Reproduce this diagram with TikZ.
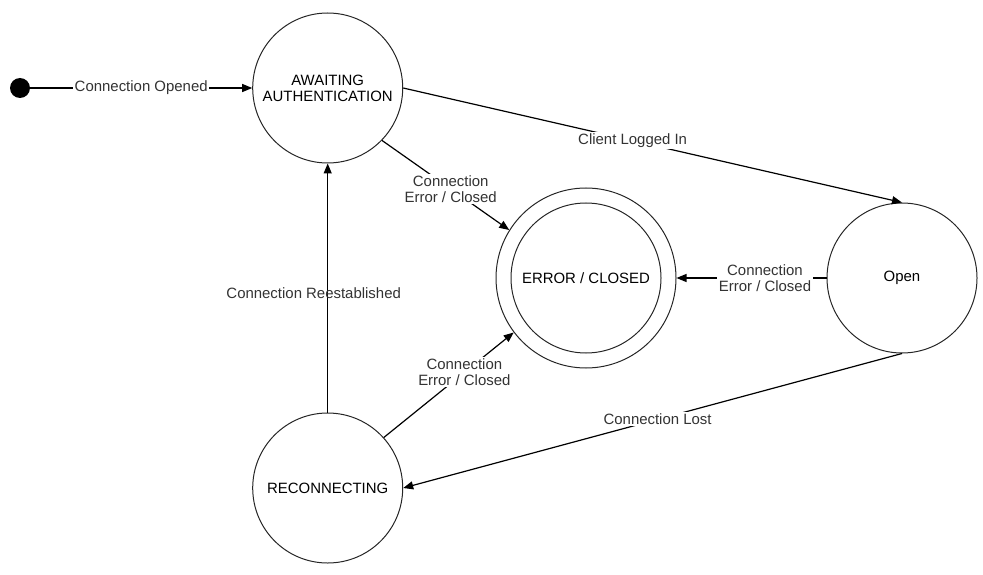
\documentclass[tikz,border=0pt]{standalone}
\usepackage{fontspec}
\setmainfont{Liberation Sans}
\usetikzlibrary{arrows.meta, positioning}

\begin{document}
\begin{tikzpicture}[x=1bp, y=-1bp, >={Triangle[length=10bp, width=8bp]},
  font=\fontsize{15}{16}\selectfont]

% Styles
\tikzstyle{state} = [circle, minimum size=150bp, inner sep=0pt, draw=black!85, line width=1bp, align=center]
\tikzstyle{initial} = [circle, minimum size=20bp, inner sep=0pt, fill=black]
\tikzstyle{arrow} = [line width=1.2bp, ->]
\tikzstyle{lbl} = [fill=white, inner sep=1.5bp, text=black!80, align=center]

\useasboundingbox (0,0) rectangle (983,575);

% --- Nodes ---

% 1. Start point
\node (start) [initial] at (20,88) {};

% 2. Awaiting authentication
\node (awaiting) [state, right=222bp of start] {AWAITING\\AUTHENTICATION};

% 3. Reconnecting
\node (reconnecting) [state, below=249bp of awaiting] {RECONNECTING};

% 4. Error / closed (double ring)
\node (error) [state, minimum size=180bp] at (586,278) {ERROR / CLOSED};
\node (error_in) [state] at (error) {};

% 5. Open
\node (open) [state, right=150bp of error] {Open};

% --- Arrows ---
\draw[arrow] (start) -- node[lbl] {Connection Opened} (awaiting);
\draw[arrow] (awaiting.east) -- node[lbl, pos=0.46] {Client Logged In} (open.north);
\draw[arrow] (awaiting.-44) -- node[lbl, pos=0.54] {Connection\\Error / Closed} (error.148);
\draw[arrow] (open.west) -- node[lbl, pos=0.41] {Connection\\Error / Closed} (error.east);
\draw[arrow] (open.south) -- node[lbl, pos=0.49] {Connection Lost} (reconnecting.east);
\draw[arrow] (reconnecting.42) -- node[lbl, pos=0.62] {Connection\\Error / Closed} (error.217);

% Label sits over the line, no fill
\draw[arrow] (reconnecting.north) -- node[pos=0.48, xshift=-14bp, text=black!80] {Connection Reestablished} (awaiting.south);

\end{tikzpicture}
\end{document}
